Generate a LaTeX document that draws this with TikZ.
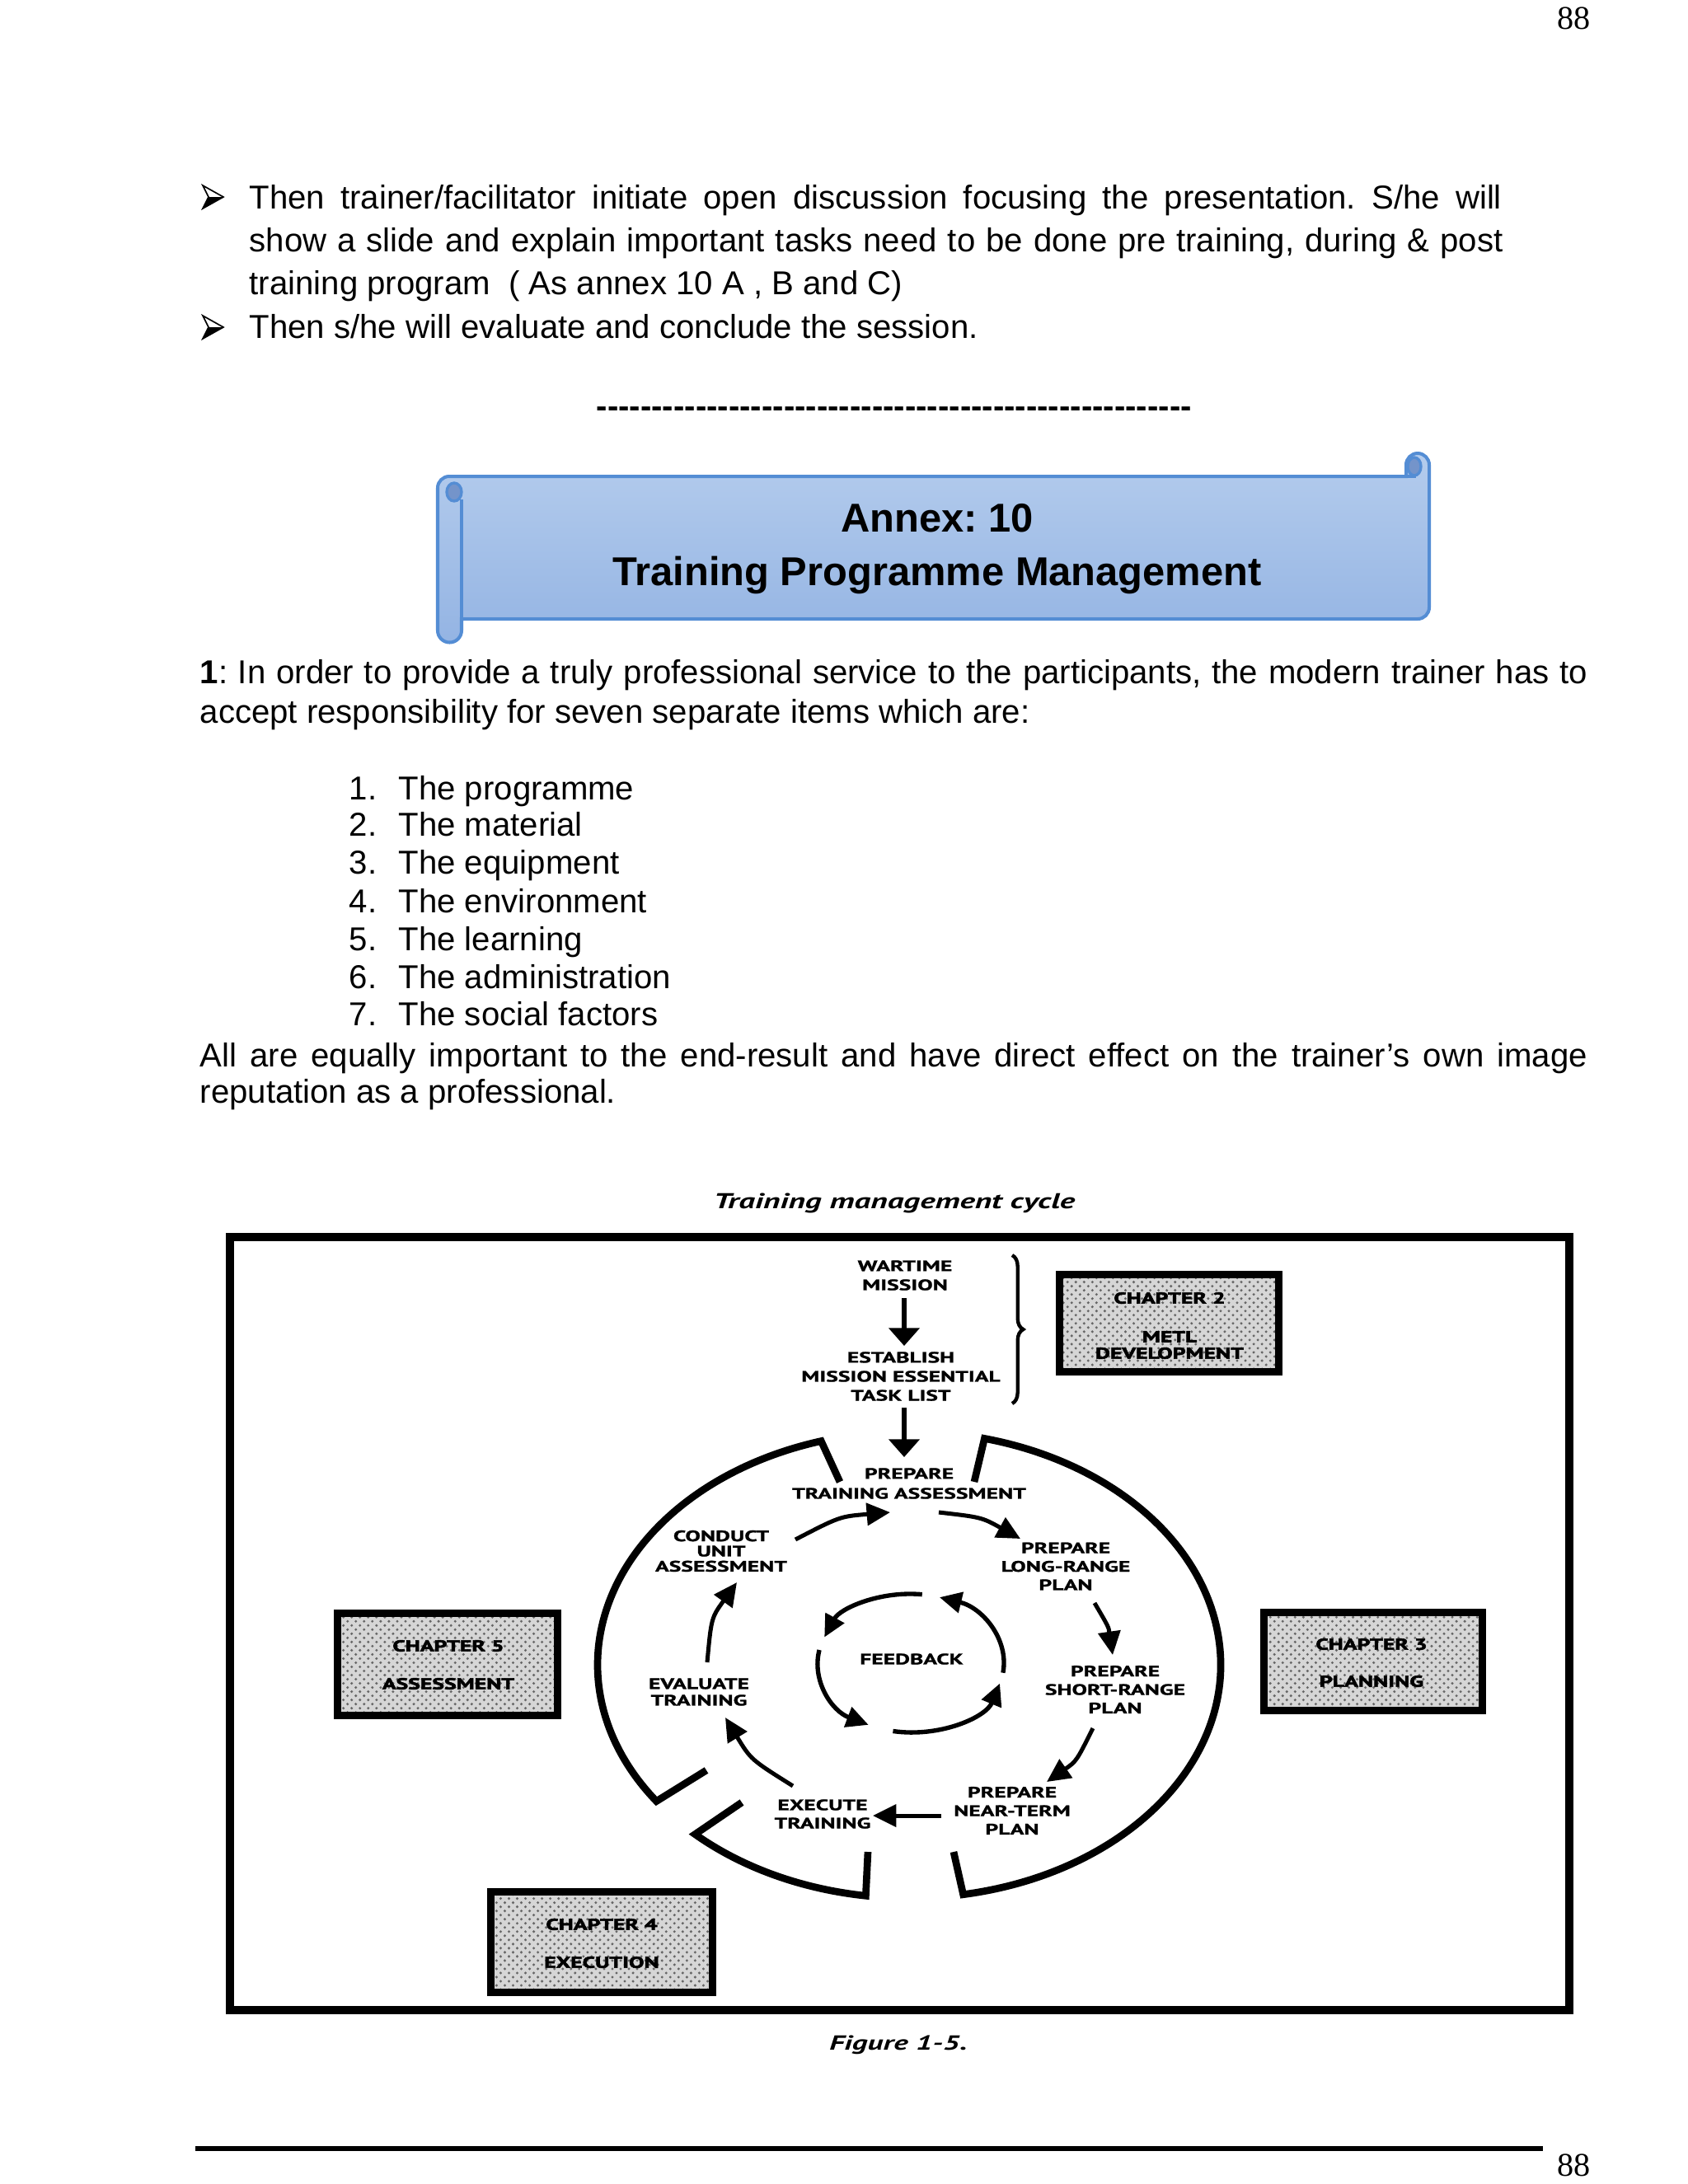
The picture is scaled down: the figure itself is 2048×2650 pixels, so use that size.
\documentclass[tikz,border=0pt]{standalone}
\usepackage{fontspec}
\setmainfont{Liberation Sans}
\newfontfamily\serifnum{Liberation Serif}
\newfontfamily\figfont{PT Sans}[FakeStretch=1.5, BoldFeatures={FakeBold=1.2}]
\newfontfamily\chapfont{PT Sans}[FakeStretch=1.45, BoldFeatures={FakeBold=3}]
\usetikzlibrary{arrows.meta,patterns,decorations.pathreplacing,calc}
\definecolor{scrollfillA}{RGB}{180,204,237}
\definecolor{scrollfillB}{RGB}{148,180,227}
\definecolor{scrollline}{RGB}{84,141,212}
\definecolor{scrolldark}{RGB}{116,148,202}
\frenchspacing
\begin{document}
\begin{tikzpicture}[x=0.2988pt, y=-0.2988pt,
  body/.style={font=\fontsize{12}{14}\selectfont, inner sep=0pt, anchor=base west},
  pnum/.style={font=\serifnum\fontsize{12}{14}\selectfont, inner sep=0pt, anchor=base east},
  lbl/.style={font=\figfont\bfseries\fontsize{5.5}{#1}\selectfont, align=center, inner sep=0pt},
  lbl/.default=6.9,
  chaptxt/.style={font=\chapfont\bfseries\fontsize{5.7}{6}\selectfont, align=center, inner sep=0pt},
  chapbox/.style={draw=black, line width=2.8pt, preaction={fill=gray!32}, pattern=crosshatch dots, pattern color=black!60, inner sep=0pt},
  ring/.style={line width=2.6pt, line join=miter},
  cyc/.style={line width=1.5pt, -{Triangle[length=8.5pt,width=8pt]}},
  downarr/.style={line width=1.9pt, -{Triangle[length=6.5pt,width=11pt]}},
  fbk/.style={line width=1.6pt, -{Triangle[length=8pt,width=7.5pt]}},
  bul/.style={line width=0.5pt, line join=miter}
]
\useasboundingbox (0,0) rectangle (2048,2650);
\fill[white] (0,0) rectangle (2048,2650);

% page numbers
\node[pnum] (pntop) at (1930,35) {88};
\node[pnum] (pnbot) at (1930,2640) {88};
\draw[line width=1.8pt] (237,2607) -- (1872,2607);

% bullets
\foreach \yy in {239,397}{
  \draw[bul, fill=white] (246,\yy-14) -- (271,\yy) -- (246,\yy+14) -- (253,\yy) -- cycle;
  \fill (253,\yy) -- (271,\yy) -- (246,\yy+14) -- cycle;
}

% top text
\node[body] (b1) at (302,253) {\makebox[454pt][s]{Then trainer/facilitator initiate open discussion focusing the presentation. S/he will}};
\node[body] (b2) at (302,305) {\makebox[454.5pt][s]{show a slide and explain important tasks need to be done pre training, during \& post}};
\node[body] (b3) at (302,357) {training program \ ( As annex 10 A , B and C)};
\node[body] (b4) at (302,410) {Then s/he will evaluate and conclude the session.};
\node[body, font=\bfseries\fontsize{12}{14}\selectfont] (dashes) at (723,506) {\foreach \i in {1,...,54}{\hbox{-}}};

% scroll banner
\path[top color=scrollfillA, bottom color=scrollfillB, draw=scrollline, line width=1.2pt]
  (545,578) -- (1706,578) -- (1706,564) arc[start angle=180,end angle=360,radius=14]
  -- (1734,737) arc[start angle=0,end angle=90,radius=14]
  -- (560,751) -- (560,765) arc[start angle=0,end angle=180,radius=14.5]
  -- (531,592) arc[start angle=180,end angle=270,radius=14] -- cycle;
\draw[scrollline, line width=1.2pt] (560,751) -- (560,606);
\draw[scrollline, line width=1.0pt, fill=scrolldark] (551,597) ellipse[x radius=9, y radius=11];
\draw[scrollline, line width=1.0pt, fill=scrolldark] (1716,566) ellipse[x radius=8, y radius=11];
\draw[scrollline, line width=1.2pt] (1706,578) -- (1718,578);
\node[font=\bfseries\fontsize{14.6}{17}\selectfont, inner sep=0pt, anchor=base] (annex) at (1137,645) {Annex: 10};
\node[font=\bfseries\fontsize{14.6}{17}\selectfont, inner sep=0pt, anchor=base] (tpm) at (1137,710) {Training Programme Management};

% paragraph and list
\node[body] (p1) at (242,829) {\makebox[503pt][s]{\textbf{1}: In order to provide a truly professional service to the participants, the modern trainer has to}};
\node[body] (p2) at (242,877) {accept responsibility for seven separate items which are:};
\node[body] (n1) at (423,970) {1.};  \node[body] (t1) at (483,970) {The programme};
\node[body] (n2) at (423,1014) {2.}; \node[body] (t2) at (483,1014) {The material};
\node[body] (n3) at (423,1060) {3.}; \node[body] (t3) at (483,1060) {The equipment};
\node[body] (n4) at (423,1107) {4.}; \node[body] (t4) at (483,1107) {The environment};
\node[body] (n5) at (423,1153) {5.}; \node[body] (t5) at (483,1153) {The learning};
\node[body] (n6) at (423,1199) {6.}; \node[body] (t6) at (483,1199) {The administration};
\node[body] (n7) at (423,1244) {7.}; \node[body] (t7) at (483,1244) {The social factors};
\node[body] (p3) at (242,1294) {\makebox[503pt][s]{All are equally important to the end-result and have direct effect on the trainer’s own image}};
\node[body] (p4) at (242,1338) {reputation as a professional.};

% figure
\node[font=\figfont\bfseries\itshape\fontsize{7.8}{9}\selectfont, inner sep=0pt, anchor=base] (ftitle) at (1085,1466) {Training management cycle};
\node[font=\figfont\bfseries\itshape\fontsize{7.4}{9}\selectfont, inner sep=0pt, anchor=base] (fcap) at (1090,2487) {Figure 1-5.};
\draw[line width=2.8pt] (279,1501) rectangle (1904,2439);

% chapter boxes
\node[chapbox, minimum width=266*0.2988pt, minimum height=118*0.2988pt] (ch2) at (1418.5,1605.5) {};
\node[chapbox, minimum width=265*0.2988pt, minimum height=119*0.2988pt] (ch3) at (1666,2016) {};
\node[chapbox, minimum width=267*0.2988pt, minimum height=124*0.2988pt] (ch5) at (543,2019.5) {};
\node[chapbox, minimum width=269*0.2988pt, minimum height=122*0.2988pt] (ch4) at (730,2356.5) {};
\node[chaptxt] (ch2a) at (1419,1575) {CHAPTER 2};
\node[chaptxt] (ch2b) at (1419,1632) {METL\\DEVELOPMENT};
\node[chaptxt] (ch3a) at (1664,1995) {CHAPTER 3};
\node[chaptxt] (ch3b) at (1664,2040) {PLANNING};
\node[chaptxt] (ch5a) at (544,1997) {CHAPTER 5};
\node[chaptxt] (ch5b) at (544,2043) {ASSESSMENT};
\node[chaptxt] (ch4a) at (730,2335) {CHAPTER 4};
\node[chaptxt] (ch4b) at (730,2381) {EXECUTION};

% labels
\node[lbl] (wm) at (1098,1547.5) {WARTIME\\MISSION};
\node[lbl] (est) at (1093,1670) {ESTABLISH\\MISSION ESSENTIAL\\TASK LIST};
\node[lbl=7.2] (pta) at (1103,1800) {PREPARE\\TRAINING ASSESSMENT};
\node[lbl=6.7] (lrp) at (1293,1900.5) {PREPARE\\LONG-RANGE\\PLAN};
\node[lbl=5.5] (cua) at (875,1882) {CONDUCT\\UNIT\\ASSESSMENT};
\node[lbl] (fb) at (1106,2013) {FEEDBACK};
\node[lbl=6] (evt) at (848,2053) {EVALUATE\\TRAINING};
\node[lbl=6.7] (srp) at (1353,2050) {PREPARE\\SHORT-RANGE\\PLAN};
\node[lbl=6.7] (ntp) at (1228,2197) {PREPARE\\NEAR-TERM\\PLAN};
\node[lbl=6.6] (ext) at (998,2201) {EXECUTE\\TRAINING};

% brace
\coordinate (br1) at (1228,1523);
\coordinate (br2) at (1228,1703);
\draw[line width=1.3pt, decorate, decoration={brace, amplitude=4pt}] (br1) -- (br2);

% straight down arrows
\coordinate (d1s) at (1097,1575); \coordinate (d1e) at (1097,1633);
\coordinate (d2s) at (1097,1708); \coordinate (d2e) at (1097,1768);
\draw[downarr] (d1s) -- (d1e);
\draw[downarr] (d2s) -- (d2e);

% outer ring
\coordinate (C) at (1103,2020);
\coordinate (a1) at (1019,1798); \coordinate (a2) at (857,2148);
\coordinate (b1i) at (900,2187); \coordinate (b2i) at (1053,2247);
\coordinate (c1i) at (1157,2247); \coordinate (c2i) at (1182,1798);
\draw[ring] (a1) -- ($(C)+(-106.4:378 and 283)$) arc[start angle=-106.4, end angle=-215.8, x radius=378, y radius=283] -- (a2);
\draw[ring] (b1i) -- ($(C)+(-226.6:378 and 283)$) arc[start angle=-226.6, end angle=-262, x radius=378, y radius=283] -- (b2i);
\draw[ring] (c1i) -- ($(C)+(-280:378 and 283)$) arc[start angle=-280, end angle=-436, x radius=378, y radius=283] -- (c2i);

% cycle arrows
\coordinate (k1s) at (965,1868);  \coordinate (k1e) at (1080,1835);
\coordinate (k2s) at (1139,1835); \coordinate (k2e) at (1238,1867);
\coordinate (k3s) at (1328,1945); \coordinate (k3e) at (1350,2008);
\coordinate (k4s) at (1326,2097); \coordinate (k4e) at (1270,2162);
\coordinate (k5s) at (1142,2203); \coordinate (k5e) at (1059,2203);
\coordinate (k6s) at (962,2167);  \coordinate (k6e) at (880,2084);
\coordinate (k7s) at (858,2017);  \coordinate (k7e) at (894,1920);
\draw[cyc] (k1s) .. controls (1019,1840) .. (k1e);
\draw[cyc] (k2s) .. controls (1191,1841) .. (k2e);
\draw[cyc] (k3s) .. controls (1345,1974) .. (k3e);
\draw[cyc] (k4s) .. controls (1306,2137) .. (k4e);
\draw[cyc] (k5s) -- (k5e);
\draw[cyc] (k6s) .. controls (911,2135) .. (k6e);
\draw[cyc] (k7s) .. controls (863,1963) .. (k7e);

% feedback loop
\coordinate (F) at (1105,2018);
\draw[fbk] ($(F)+(-83:113 and 84)$) arc[start angle=-83, end angle=-158, x radius=113, y radius=84];
\draw[fbk] ($(F)+(-169:113 and 84)$) arc[start angle=-169, end angle=-243, x radius=113, y radius=84];
\draw[fbk] ($(F)+(-259:113 and 84)$) arc[start angle=-259, end angle=-343, x radius=113, y radius=84];
\draw[fbk] ($(F)+(-352:113 and 84)$) arc[start angle=-352, end angle=-432, x radius=113, y radius=84];
\end{tikzpicture}
\end{document}
